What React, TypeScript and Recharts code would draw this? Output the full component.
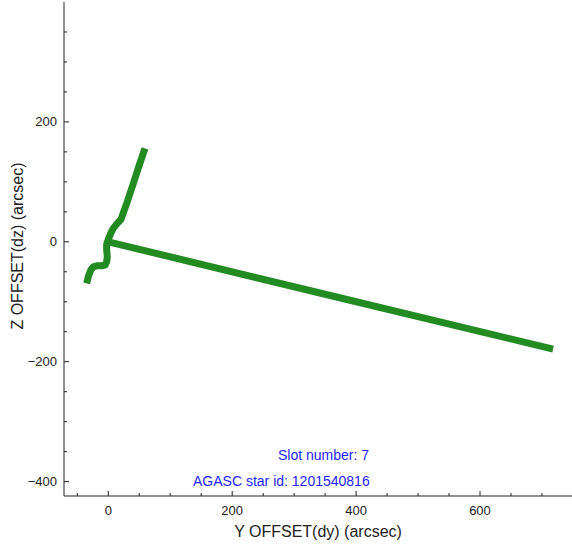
import React from 'react'
import { ScatterChart, Scatter, XAxis, YAxis, Label } from 'recharts'

// curved branch, from the lower-left start up to the top end
const curveY = [-34.9, -32.3, -28.4, -24.2, -18.7, -10.7, -5.3, -2.6, -1.6, -2.6, -2.6, 0, 3.9, 8, 13.5, 20.5, 30, 40, 50, 59.2]
const curveZ = [-69.3, -58.3, -47.2, -41.7, -40, -40, -38.8, -33.3, -25, -13.8, -3.8, 4, 14, 22.3, 29.5, 37.3, 65, 96, 128, 155.7]

// straight branch from the origin to the lower right
const lineY = [0, 360, 718]
const lineZ = [0, -90, -179]

const xTicks = [-50, 0, 50, 100, 150, 200, 250, 300, 350, 400, 450, 500, 550, 600, 650, 700]
const yTicks = [-400, -350, -300, -250, -200, -150, -100, -50, 0, 50, 100, 150, 200, 250, 300, 350]
const xMajor = [0, 200, 400, 600]
const yMajor = [-400, -200, 0, 200]

const xTitle = 'Y OFFSET(dy) (arcsec)'
const yTitle = 'Z OFFSET(dz) (arcsec)'
const slotText = 'Slot number: 7'
const starText = 'AGASC star id: 1201540816'

const curveData = curveY.map((y, i) => ({ y, z: curveZ[i] }))
const lineData = lineY.map((y, i) => ({ y, z: lineZ[i] }))

const GREEN = '#228b22'
const AXIS = '#222'
const BLUE = '#1e1eff'
const FONT = '"Liberation Sans", Arial, Helvetica, sans-serif'

const fmt = (v: number) => (v < 0 ? '\u2212' + Math.abs(v) : String(v))

const BottomTick = (props: any) => {
  const { x, y, payload } = props
  const major = xMajor.includes(payload.value)
  return (
    <g>
      <line x1={x} x2={x} y1={y} y2={y - (major ? 5 : 3)} stroke={AXIS} />
      {major && (
        <text x={x} y={y + 19} textAnchor="middle" fontSize={13} fontFamily={FONT} fill={AXIS}>
          {fmt(payload.value)}
        </text>
      )}
    </g>
  )
}

const TopTick = (props: any) => {
  const { x, y, payload } = props
  const major = xMajor.includes(payload.value)
  return <line x1={x} x2={x} y1={y} y2={y + (major ? 5 : 3)} stroke={AXIS} />
}

const LeftTick = (props: any) => {
  const { x, y, payload } = props
  const major = yMajor.includes(payload.value)
  return (
    <g>
      <line x1={x} x2={x + (major ? 5 : 3)} y1={y} y2={y} stroke={AXIS} />
      {major && (
        <text x={x - 7} y={y + 4.5} textAnchor="end" fontSize={13} fontFamily={FONT} fill={AXIS}>
          {fmt(payload.value)}
        </text>
      )}
    </g>
  )
}

const RightTick = (props: any) => {
  const { x, y, payload } = props
  if (!yMajor.includes(payload.value)) return <g />
  return <line x1={x} x2={x - 3} y1={y} y2={y} stroke={AXIS} />
}

const NoDot = () => <g />

export default function App() {
  return (
    <div style={{ position: 'absolute', left: 0, top: 0, width: 572, height: 548, background: '#fff' }}>
      <ScatterChart width={572} height={548} margin={{ top: 2, right: 0, left: 0, bottom: 0 }}>
        <XAxis
          dataKey="y"
          type="number"
          domain={[-71.5, 748.5]}
          allowDataOverflow
          ticks={xTicks}
          tick={<BottomTick />}
          tickSize={0}
          tickMargin={0}
          tickLine={false}
          axisLine={{ stroke: AXIS }}
          height={52}
          interval={0}
        >
          <Label
            content={() => (
              <text x={318} y={537} textAnchor="middle" fontSize={16} fontFamily={FONT} fill={AXIS}>
                {xTitle}
              </text>
            )}
          />
        </XAxis>
        <XAxis
          xAxisId="top"
          orientation="top"
          dataKey="y"
          type="number"
          domain={[-71.5, 748.5]}
          allowDataOverflow
          ticks={xTicks}
          tick={<TopTick />}
          tickSize={0}
          tickMargin={0}
          tickLine={false}
          axisLine={{ stroke: '#777' }}
          height={0}
          interval={0}
        />
        <YAxis
          dataKey="z"
          type="number"
          domain={[-424, 400]}
          allowDataOverflow
          ticks={yTicks}
          tick={<LeftTick />}
          tickSize={0}
          tickMargin={0}
          tickLine={false}
          axisLine={{ stroke: AXIS }}
          width={64}
          interval={0}
        >
          <Label
            content={() => (
              <text
                x={0}
                y={0}
                transform="translate(23.3,246) rotate(-90)"
                textAnchor="middle"
                fontSize={16}
                fontFamily={FONT}
                fill={AXIS}
              >
                {yTitle}
              </text>
            )}
          />
        </YAxis>
        <YAxis
          yAxisId="right"
          orientation="right"
          dataKey="z"
          type="number"
          domain={[-424, 400]}
          allowDataOverflow
          ticks={yTicks}
          tick={<RightTick />}
          tickSize={0}
          tickMargin={0}
          tickLine={false}
          axisLine={false}
          width={0}
          interval={0}
        />
        <Scatter
          data={curveData}
          fill={GREEN}
          shape={<NoDot />}
          line={{ stroke: GREEN, strokeWidth: 7, strokeLinejoin: 'round' }}
          isAnimationActive={false}
        />
        <Scatter
          data={lineData}
          fill={GREEN}
          shape={<NoDot />}
          line={{ stroke: GREEN, strokeWidth: 7, strokeLinejoin: 'round' }}
          isAnimationActive={false}
        />
      </ScatterChart>
      <div style={{ position: 'absolute', left: 278, top: 447, fontSize: 14, fontFamily: FONT, color: BLUE, whiteSpace: 'nowrap' }}>
        {slotText}
      </div>
      <div style={{ position: 'absolute', left: 193, top: 473, fontSize: 14, fontFamily: FONT, color: BLUE, whiteSpace: 'nowrap' }}>
        {starText}
      </div>
    </div>
  )
}
